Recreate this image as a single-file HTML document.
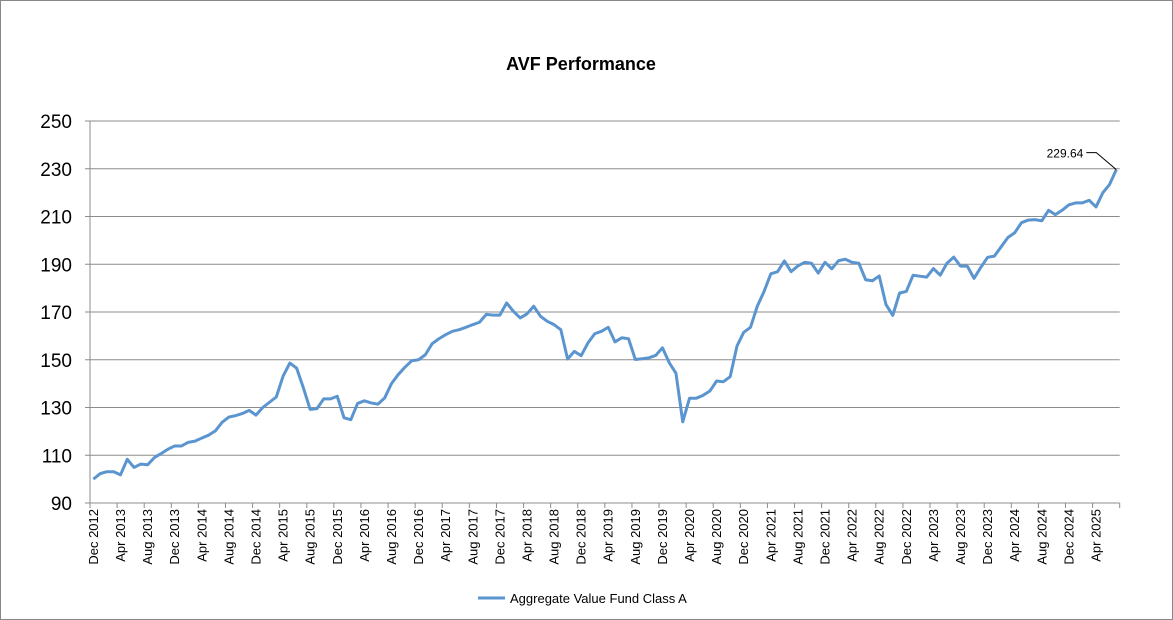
<!DOCTYPE html>
<html><head><meta charset="utf-8"><style>
body{margin:0;background:#fff;}
svg{display:block;font-family:"Liberation Sans",Arial,sans-serif;}
</style></head><body>
<svg id="chart" width="1173" height="620">
<rect x="0.5" y="0.5" width="1172" height="619" fill="#fff" stroke="#888"/>
<text x="581" y="70" text-anchor="middle" font-size="18" font-weight="bold">AVF Performance</text>
<g id="grid"></g><g id="yaxis"></g><g id="xaxis"></g><g id="series"></g>
<g>
<line x1="478" y1="598" x2="505" y2="598" stroke="#5b95cf" stroke-width="3"/>
<text x="510" y="603" font-size="13">Aggregate Value Fund Class A</text>
</g>
</svg>
<script>
const values=[100.0,102.3,103.1,103.1,101.8,108.3,104.9,106.3,106.0,109.0,110.7,112.5,113.9,113.9,115.4,115.9,117.2,118.4,120.2,123.8,126.0,126.6,127.5,128.8,126.8,130.0,132.2,134.4,143.1,148.6,146.5,138.2,129.2,129.5,133.6,133.6,134.7,125.7,124.9,131.7,132.8,131.9,131.4,134.0,140.0,143.8,146.9,149.6,150.0,152.1,156.7,158.8,160.5,161.9,162.6,163.6,164.7,165.7,169.0,168.7,168.7,173.8,170.3,167.5,169.2,172.4,168.2,166.1,164.7,162.6,150.3,153.5,151.7,157.0,160.9,161.9,163.6,157.5,159.2,158.8,150.1,150.4,150.8,151.8,155.0,148.8,144.3,124.0,133.9,133.9,135.1,136.9,141.1,140.8,142.9,155.7,161.5,163.6,172.4,178.6,186.0,186.9,191.4,186.9,189.3,190.8,190.4,186.3,190.8,188.1,191.5,192.1,190.8,190.4,183.5,183.1,185.1,173.1,168.6,177.9,178.6,185.4,185.0,184.6,188.2,185.4,190.4,193.0,189.2,189.2,184.1,188.7,192.9,193.4,197.3,201.2,203.2,207.4,208.5,208.7,208.2,212.6,210.8,212.6,214.9,215.7,215.7,216.8,214.0,219.9,223.4,229.64];
const yTicks=[90,110,130,150,170,190,210,230,250];
const monthNames=["Jan","Feb","Mar","Apr","May","Jun","Jul","Aug","Sep","Oct","Nov","Dec"];
const startYear=2012, startMonth=11;
const lastLabel="229.64";

const NS="http://www.w3.org/2000/svg";
const X0=90,X1=1119.7,Y0=503,Y1=121,YMIN=90,YMAX=250;
const n=values.length, w=(X1-X0)/n;
const xs=i=>X0+(i+0.5)*w;
const ys=v=>Y0-(v-YMIN)/(YMAX-YMIN)*(Y0-Y1);
function mk(t,a,p){const e=document.createElementNS(NS,t);for(const k in a)e.setAttribute(k,a[k]);p.appendChild(e);return e;}
const grid=document.getElementById('grid'),ya=document.getElementById('yaxis'),xa=document.getElementById('xaxis'),se=document.getElementById('series');
yTicks.forEach(t=>{
 const y=ys(t);
 if(t>YMIN){const g=mk('line',{x1:X0,x2:X1,y1:y,y2:y,stroke:'#8c8c8c','stroke-width':1},grid);
 
 }
 const tk=mk('line',{x1:X0-5,x2:X0,y1:y,y2:y,stroke:'#8c8c8c'},ya);
 
 
 const tx=mk('text',{x:72,y:y+7,'text-anchor':'end','font-size':19},ya);
 tx.textContent=t;
 
 
});
const yl=mk('line',{x1:X0,x2:X0,y1:Y1,y2:Y0,stroke:'#8c8c8c'},ya);


const xl=mk('line',{x1:X0,x2:X1,y1:Y0,y2:Y0,stroke:'#8c8c8c'},xa);


for(let i=0;i<=n;i+=4){
 const x=X0+i*w;
 const tk=mk('line',{x1:x,x2:x,y1:Y0,y2:Y0+5,stroke:'#8c8c8c'},xa);
 
 
 if(i<n){
  const m=startMonth+i, lab=monthNames[m%12]+' '+(startYear+Math.floor(m/12));
  const cx=xs(i);
  const tx=mk('text',{x:0,y:0,'text-anchor':'end','font-size':13,transform:`translate(${cx+4.5},509) rotate(-90)`},xa);
  tx.textContent=lab;
  
  
 }
}
const pts=values.map((v,i)=>xs(i).toFixed(2)+','+ys(v).toFixed(2)).join(' ');
const pl=mk('polyline',{points:pts,fill:'none',stroke:'#5b95cf','stroke-width':3,'stroke-linejoin':'round'},se);


const lx=xs(n-1),ly=ys(values[n-1]);
const ll=mk('polyline',{points:`${lx-30},${ly-17} ${lx-20},${ly-17} ${lx},${ly}`,fill:'none',stroke:'#000','stroke-width':1},se);


const at=mk('text',{x:lx-33,y:ly-12,'text-anchor':'end','font-size':12},se);
at.textContent=lastLabel;


</script>
</body></html>
